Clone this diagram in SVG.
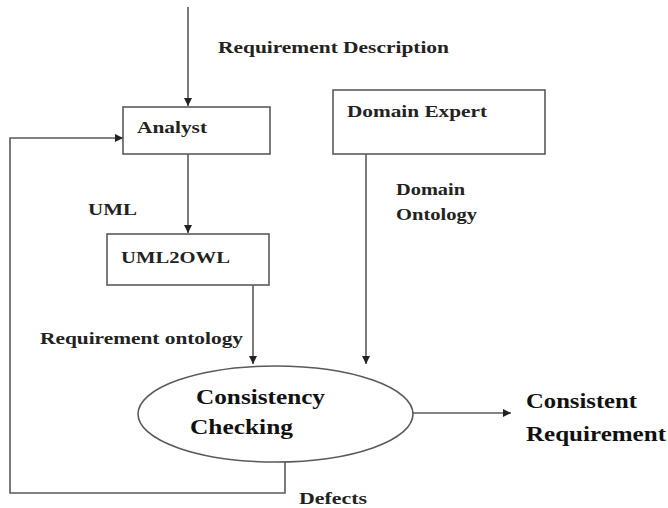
<svg xmlns="http://www.w3.org/2000/svg" width="668" height="508" viewBox="0 0 668 508">
<defs>
<style>
.box{fill:#fff;stroke:#5a5a5a;stroke-width:1.6}
.ln{fill:none;stroke:#5a5a5a;stroke-width:1.6}
.t{font-family:"Liberation Serif","Times New Roman",serif;font-weight:bold;fill:#222;font-size:16.5px}
.b{font-family:"Liberation Serif","Times New Roman",serif;font-weight:bold;fill:#111;font-size:21px}
</style>
<marker id="ah" viewBox="0 0 10 10" refX="10" refY="5" markerWidth="9" markerHeight="8" markerUnits="userSpaceOnUse" orient="auto">
<path d="M0,0 L10,5 L0,10 z" fill="#222"/>
</marker>
</defs>
<rect width="668" height="508" fill="#fff"/>
<g id="connectors">
<line class="ln" x1="188" y1="7" x2="188" y2="106" marker-end="url(#ah)"/>
<line class="ln" x1="188" y1="154" x2="188" y2="233" marker-end="url(#ah)"/>
<line class="ln" x1="253" y1="285" x2="253" y2="364" marker-end="url(#ah)"/>
<line class="ln" x1="366" y1="154" x2="366" y2="364" marker-end="url(#ah)"/>
<line class="ln" x1="413" y1="413" x2="511" y2="413" marker-end="url(#ah)"/>
<polyline class="ln" points="285,462 285,493 10,493 10,138 123,138" marker-end="url(#ah)"/>
<text class="t" x="218" y="53" textLength="231" lengthAdjust="spacingAndGlyphs">Requirement Description</text>
<text class="t" x="88" y="215" textLength="49" lengthAdjust="spacingAndGlyphs">UML</text>
<text class="t" x="40" y="344" textLength="203" lengthAdjust="spacingAndGlyphs">Requirement ontology</text>
<text class="t" x="396" y="195" textLength="69" lengthAdjust="spacingAndGlyphs">Domain</text>
<text class="t" x="396" y="220" textLength="81" lengthAdjust="spacingAndGlyphs">Ontology</text>
<text class="t" x="299" y="504" textLength="68" lengthAdjust="spacingAndGlyphs">Defects</text>
</g>
<g id="analyst">
<rect class="box" x="123" y="107" width="147" height="47"/>
<text class="t" x="137" y="133" textLength="70" lengthAdjust="spacingAndGlyphs">Analyst</text>
</g>
<g id="domain-expert">
<rect class="box" x="333" y="90" width="212" height="64"/>
<text class="t" x="347" y="117" textLength="140" lengthAdjust="spacingAndGlyphs">Domain Expert</text>
</g>
<g id="uml2owl">
<rect class="box" x="107" y="234" width="162" height="51"/>
<text class="t" x="121" y="263" textLength="109" lengthAdjust="spacingAndGlyphs">UML2OWL</text>
</g>
<g id="consistency-checking">
<ellipse class="box" cx="275.5" cy="414" rx="137.5" ry="48"/>
<text class="b" x="196" y="404" textLength="129" lengthAdjust="spacingAndGlyphs">Consistency</text>
<text class="b" x="190" y="434" textLength="103" lengthAdjust="spacingAndGlyphs">Checking</text>
</g>
<g id="consistent-requirement">
<text class="b" x="526" y="408" textLength="111" lengthAdjust="spacingAndGlyphs">Consistent</text>
<text class="b" x="526" y="441" textLength="140" lengthAdjust="spacingAndGlyphs">Requirement</text>
</g>
</svg>
